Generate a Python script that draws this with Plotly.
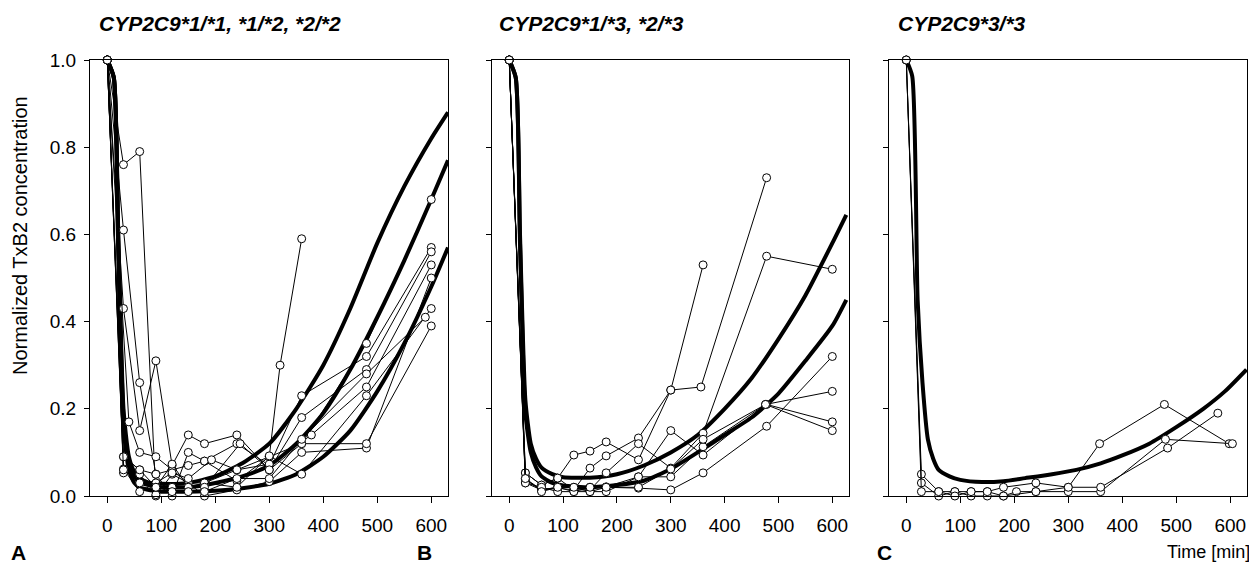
import plotly.graph_objects as go

# ---------------- Panel A: CYP2C9*1/*1, *1/*2, *2/*2 ----------------
a_subject_times = [
    [0, 30, 60, 90, 120, 150, 180, 240, 300, 360, 480, 600],
    [0, 30, 60, 90, 120, 150, 180, 240, 300, 360, 480, 600],
    [0, 30, 60, 90, 120, 150, 180, 240, 300, 360, 480, 600],
    [0, 40, 60, 90, 120, 150, 180, 240, 300, 320, 360],
    [0, 30, 60, 90, 120, 150, 180, 240, 300, 360, 480, 600],
    [0, 30, 60, 90, 120, 150, 193, 240, 300, 378, 480, 600],
    [0, 30, 60, 90, 120, 150, 180, 240, 300, 360, 480, 600],
    [0, 30, 60, 90, 120, 150, 180, 246, 300, 360, 480, 600],
    [0, 30, 60, 90, 120, 150, 180, 240, 300, 360, 480, 589],
]
a_subject_values = [
    [1.0, 0.76, 0.79, 0.00, 0.05, 0.03, 0.03, 0.06, 0.09, 0.12, 0.35, 0.68],
    [1.0, 0.61, 0.26, 0.05, 0.00, 0.10, 0.08, 0.12, 0.07, 0.23, 0.32, 0.57],
    [1.0, 0.43, 0.15, 0.31, 0.07, 0.14, 0.12, 0.14, 0.06, 0.18, 0.29, 0.56],
    [1.0, 0.17, 0.10, 0.09, 0.06, 0.07, 0.08, 0.035, 0.09, 0.30, 0.59],
    [1.0, 0.09, 0.06, 0.05, 0.06, 0.03, 0.00, 0.014, 0.033, 0.10, 0.11, 0.50],
    [1.0, 0.062, 0.01, 0.03, 0.053, 0.04, 0.083, 0.06, 0.073, 0.14, 0.25, 0.53],
    [1.0, 0.053, 0.05, 0.003, 0.02, 0.02, 0.03, 0.02, 0.092, 0.05, 0.23, 0.43],
    [1.0, 0.09, 0.06, 0.02, 0.073, 0.02, 0.02, 0.12, 0.06, 0.12, 0.12, 0.39],
    [1.0, 0.06, 0.03, 0.02, 0.01, 0.01, 0.01, 0.04, 0.04, 0.13, 0.28, 0.41],
]
a_fit_times = [0, 12, 20, 30, 40, 50, 60, 80, 100, 150, 200, 250, 300, 350, 400, 450, 500, 550, 600, 631]
a_fit_values = [
    [1.0, 0.96, 0.62, 0.20, 0.09, 0.055, 0.04, 0.03, 0.028, 0.03, 0.045, 0.075, 0.12, 0.20, 0.30, 0.43, 0.58, 0.71, 0.82, 0.88],
    [1.0, 0.96, 0.60, 0.18, 0.075, 0.045, 0.032, 0.024, 0.02, 0.02, 0.03, 0.045, 0.07, 0.12, 0.19, 0.29, 0.41, 0.54, 0.68, 0.77],
    [1.0, 0.96, 0.58, 0.16, 0.06, 0.03, 0.02, 0.013, 0.01, 0.01, 0.012, 0.018, 0.028, 0.05, 0.09, 0.15, 0.24, 0.35, 0.48, 0.57],
]

# ---------------- Panel B: CYP2C9*1/*3, *2/*3 ----------------
b_subject_times = [
    [0, 30, 60, 90, 120, 150, 180, 240, 300, 360],
    [0, 30, 60, 90, 120, 150, 180, 240, 300, 356, 478],
    [0, 30, 60, 90, 120, 150, 180, 240, 300, 360, 478, 600],
    [0, 30, 60, 90, 120, 150, 180, 240, 300, 360, 478, 600],
    [0, 30, 60, 90, 120, 150, 180, 240, 300, 360, 478, 600],
    [0, 30, 60, 90, 120, 150, 180, 240, 300, 360, 476, 600],
    [0, 30, 60, 90, 120, 150, 180, 240, 300, 360, 476, 600],
]
b_subject_values = [
    [1.0, 0.053, 0.025, 0.041, 0.094, 0.103, 0.124, 0.083, 0.243, 0.53],
    [1.0, 0.037, 0.014, 0.018, 0.014, 0.064, 0.092, 0.133, 0.243, 0.25, 0.73],
    [1.0, 0.053, 0.025, 0.041, 0.014, 0.014, 0.053, 0.12, 0.064, 0.144, 0.55, 0.52],
    [1.0, 0.03, 0.014, 0.02, 0.01, 0.02, 0.021, 0.044, 0.15, 0.094, 0.21, 0.17],
    [1.0, 0.04, 0.014, 0.02, 0.02, 0.01, 0.02, 0.018, 0.014, 0.053, 0.16, 0.32],
    [1.0, 0.03, 0.02, 0.01, 0.01, 0.01, 0.01, 0.044, 0.044, 0.113, 0.21, 0.24],
    [1.0, 0.04, 0.01, 0.02, 0.02, 0.02, 0.02, 0.02, 0.062, 0.13, 0.21, 0.15],
]
b_fit_times = [0, 12, 20, 30, 40, 50, 60, 80, 100, 150, 200, 250, 300, 350, 400, 450, 500, 550, 600, 626]
b_fit_values = [
    [1.0, 0.96, 0.60, 0.22, 0.12, 0.085, 0.065, 0.05, 0.043, 0.042, 0.05, 0.07, 0.10, 0.14, 0.20, 0.27, 0.36, 0.46, 0.58, 0.645],
    [1.0, 0.96, 0.58, 0.19, 0.10, 0.065, 0.045, 0.03, 0.024, 0.02, 0.025, 0.035, 0.062, 0.10, 0.14, 0.18, 0.235, 0.31, 0.39, 0.45],
]

# ---------------- Panel C: CYP2C9*3/*3 ----------------
c_subject_times = [
    [0, 28, 60, 90, 120, 150, 180, 240, 300, 358, 478, 598],
    [0, 28, 60, 90, 120, 150, 180, 204, 240, 300, 360, 480, 604],
    [0, 28, 60, 90, 120, 150, 180, 240, 300, 360, 484, 577],
]
c_subject_values = [
    [1.0, 0.05, 0.01, 0.01, 0.01, 0.01, 0.02, 0.03, 0.02, 0.12, 0.21, 0.12],
    [1.0, 0.03, 0.00, 0.01, 0.00, 0.00, 0.00, 0.01, 0.01, 0.01, 0.01, 0.13, 0.12],
    [1.0, 0.01, 0.01, 0.00, 0.01, 0.01, 0.00, 0.01, 0.02, 0.02, 0.11, 0.19],
]
c_fit_times = [0, 11, 21, 30, 40, 50, 60, 80, 100, 140, 180, 220, 270, 315, 360, 400, 450, 500, 550, 590, 630]
c_fit_values = [
    [1.0, 0.963, 0.45, 0.26, 0.13, 0.085, 0.06, 0.045, 0.037, 0.032, 0.034, 0.041, 0.05, 0.06, 0.075, 0.093, 0.12, 0.158, 0.20, 0.24, 0.29],
]

panel_titles = ["CYP2C9*1/*1, *1/*2, *2/*2", "CYP2C9*1/*3, *2/*3", "CYP2C9*3/*3"]
panel_letters = ["A", "B", "C"]
x_ticks = [0, 100, 200, 300, 400, 500, 600]
y_ticks = [0.0, 0.2, 0.4, 0.6, 0.8, 1.0]
y_tick_text = ["0.0", "0.2", "0.4", "0.6", "0.8", "1.0"]

W, H = 1249, 566
FONT = "Liberation Sans, Arial, Helvetica, sans-serif"

fig = go.Figure()

panels = [
    (a_subject_times, a_subject_values, a_fit_times, a_fit_values),
    (b_subject_times, b_subject_values, b_fit_times, b_fit_values),
    (c_subject_times, c_subject_values, c_fit_times, c_fit_values),
]

for i, (st, sv, ft, fv) in enumerate(panels):
    xa = "x" if i == 0 else f"x{i+1}"
    ya = "y" if i == 0 else f"y{i+1}"
    for vals in fv:
        fig.add_trace(go.Scatter(
            x=ft, y=vals, xaxis=xa, yaxis=ya, mode="lines",
            line=dict(color="black", width=4, shape="spline", smoothing=0.6),
            showlegend=False, hoverinfo="skip"))
    for t, v in zip(st, sv):
        fig.add_trace(go.Scatter(
            x=t, y=v, xaxis=xa, yaxis=ya, mode="lines+markers",
            line=dict(color="black", width=1),
            marker=dict(symbol="circle", size=8, color="white",
                        line=dict(color="black", width=1)),
            cliponaxis=False, showlegend=False, hoverinfo="skip"))

# pixel-based domains
x_doms = [(90, 448), (492, 849), (889, 1247)]
y_top, y_bot = 60, 496
ydom = [1 - y_bot / H, 1 - y_top / H]

layout = dict(
    width=W, height=H,
    margin=dict(l=0, r=0, t=0, b=0),
    paper_bgcolor="white", plot_bgcolor="white",
    font=dict(family=FONT, color="black"),
)
for i, (x0, x1) in enumerate(x_doms):
    xk = "xaxis" if i == 0 else f"xaxis{i+1}"
    yk = "yaxis" if i == 0 else f"yaxis{i+1}"
    yref = "y" if i == 0 else f"y{i+1}"
    xref = "x" if i == 0 else f"x{i+1}"
    layout[xk] = dict(
        domain=[x0 / W, x1 / W], anchor=yref, range=[-32, 631],
        tickmode="array", tickvals=x_ticks, ticks="outside", ticklen=6,
        tickcolor="black", showline=True, linecolor="black", linewidth=1,
        mirror=True, showgrid=False, zeroline=False,
        tickfont=dict(size=19, family=FONT, color="black"),
        ticklabelstandoff=6, automargin=False)
    layout[yk] = dict(
        domain=ydom, anchor=xref, range=[0, 1],
        tickmode="array", tickvals=y_ticks, ticktext=y_tick_text,
        ticks="outside", ticklen=5, tickcolor="black",
        showline=True, linecolor="black", linewidth=1, mirror=True,
        showgrid=False, zeroline=False, showticklabels=(i == 0),
        tickfont=dict(size=19, family=FONT, color="black"),
        ticklabelstandoff=4, automargin=False)

fig.update_layout(**layout)

ann = []
title_x = [97, 497, 896]
for i, t in enumerate(panel_titles):
    ann.append(dict(text=f"<b><i>{t}</i></b>", x=title_x[i] / W, y=1 - 24 / H,
                    xref="paper", yref="paper", xanchor="left", yanchor="middle",
                    showarrow=False, font=dict(size=21, family=FONT, color="black")))
letter_x = [18, 424, 884]
for i, l in enumerate(panel_letters):
    ann.append(dict(text=f"<b>{l}</b>", x=letter_x[i] / W, y=1 - 552 / H,
                    xref="paper", yref="paper", xanchor="center", yanchor="middle",
                    showarrow=False, font=dict(size=21, family=FONT, color="black")))
ann.append(dict(text="Time [min]", x=1208 / W, y=1 - 552 / H, xref="paper", yref="paper",
                xanchor="center", yanchor="middle", showarrow=False,
                font=dict(size=18, family=FONT, color="black")))
ann.append(dict(text="Normalized TxB2 concentration", x=20 / W, y=1 - 236 / H,
                xref="paper", yref="paper", xanchor="center", yanchor="middle",
                textangle=-90, showarrow=False,
                font=dict(size=20, family=FONT, color="black")))
fig.update_layout(annotations=ann)

fig.write_html("out.html", config={"displayModeBar": False},
               post_script="document.body.style.margin='0';document.body.style.overflow='hidden';")
